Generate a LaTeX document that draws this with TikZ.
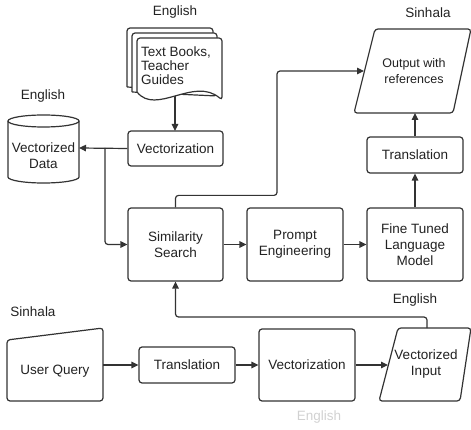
\documentclass[tikz,border=0pt]{standalone}
\usepackage{fontspec}
\setmainfont{Liberation Sans}
\usetikzlibrary{arrows.meta}
\definecolor{ln}{HTML}{333333}
\definecolor{tx}{HTML}{222222}
\begin{document}
\begin{tikzpicture}[x=1pt,y=-1pt,
  txt/.style={font=\fontsize{13.5}{16}\selectfont, text=tx, align=center, inner sep=0pt},
  box/.style={txt, draw=ln, rounded corners=3pt, line width=1.2pt, fill=white},
  shp/.style={draw=ln, rounded corners=3pt, line width=1.2pt, fill=white},
  arr/.style={draw=ln, line width=1.2pt, rounded corners=3pt, -{Triangle[length=7pt,width=6.5pt]}},
  lbl/.style={txt}
]
\useasboundingbox (0,0) rectangle (471,430);

% labels
\node[lbl] (l1) at (175,12) {English};
\node[lbl] (l2) at (43,96) {English};
\node[lbl] (l3) at (428,13) {Sinhala};
\node[lbl] (l4) at (33,312) {Sinhala};
\node[lbl] (l5) at (415,300) {English};
\node[lbl, text=black!18] (l6) at (319,417) {English};

% document stack
\coordinate (docS) at (175,96);
\coordinate (vec1N) at (175,131);
\draw[arr] (docS) -- (vec1N);
\draw[shp] (127,87) -- (127,28) -- (213,28) -- (213,92) -- (127,87);
\draw[shp] (132,92) -- (132,33) -- (217,33) -- (217,96) -- (132,92);
\draw[draw=ln, line width=1.2pt, fill=white, rounded corners=3pt] (137,92) -- (137,38) -- (222,38) -- (222,100)
   [sharp corners] .. controls (194,76) and (156,116) .. (137,92) -- cycle;
\node[txt, align=left, anchor=west, font=\fontsize{13.5}{14}\selectfont] (docs) at (141,66) {Text Books,\\Teacher\\Guides};

% cylinder
\draw[shp, rounded corners=0pt] (8,121) -- (8,177) arc[start angle=180, end angle=0, x radius=35.5, y radius=6]
   -- (79,121) arc[start angle=0, end angle=-180, x radius=35.5, y radius=6] -- cycle;
\draw[draw=ln, line width=1.2pt] (8,121) arc[start angle=180, end angle=0, x radius=35.5, y radius=6];
\node[txt] (vdata) at (43.5,156) {Vectorized\\Data};
\coordinate (vdataE) at (79,148);

% boxes
\node[box, minimum width=95pt, minimum height=35pt] (vec1) at (175.5,148.5) {Vectorization};
\node[box, minimum width=95pt, minimum height=73pt] (sim) at (175.5,244.5) {Similarity\\Search};
\node[box, minimum width=96pt, minimum height=73pt] (prompt) at (295,244.5) {Prompt\\Engineering};
\node[box, minimum width=96pt, minimum height=73pt] (fine) at (415,244.5) {Fine Tuned\\Language\\Model};
\node[box, minimum width=96pt, minimum height=36pt] (tr1) at (415,155) {Translation};
\node[box, minimum width=96pt, minimum height=36pt] (tr2) at (187,365) {Translation};
\node[box, minimum width=96pt, minimum height=72pt] (vec2) at (307,365) {Vectorization};

% output parallelogram
\draw[shp] (375,29) -- (471,29) -- (453,113) -- (354,113) -- cycle;
\node[txt, font=\fontsize{12.5}{16}\selectfont] (out) at (414,71) {Output with\\references};
\coordinate (outW) at (364,71);
\coordinate (outS) at (415,113);

% user query
\draw[shp] (7,340) -- (103,328) -- (103,401) -- (7,401) -- cycle;
\node[txt] (uq) at (55,371) {User Query};
\coordinate (uqE) at (103,365);

% vectorized input
\draw[shp] (398,328) -- (471,328) -- (460,401) -- (379,401) -- cycle;
\node[txt] (vin) at (426,364) {Vectorized\\Input};
\coordinate (vinW) at (388,365);
\coordinate (vinN) at (427,328);

% connectors
\draw[arr] (vec1.west) -- (vdataE);
\coordinate (j1) at (105,148);
\draw[arr] (j1) -- (j1 |- sim.west) -- (sim.west);
\draw[arr] (sim.north) -- ++(0,-12) -| (277,71) -- (outW);
\draw[arr] (sim.east) -- (prompt.west);
\draw[arr] (prompt.east) -- (fine.west);
\draw[arr] (fine.north) -- (tr1.south);
\draw[arr] (tr1.north) -- (outS);
\draw[arr] (uqE) -- (tr2.west);
\draw[arr] (tr2.east) -- (vec2.west);
\draw[arr] (vec2.east) -- (vinW);
\draw[arr] (vinN) -- (427,317) -| (sim.south);
\end{tikzpicture}
\end{document}
